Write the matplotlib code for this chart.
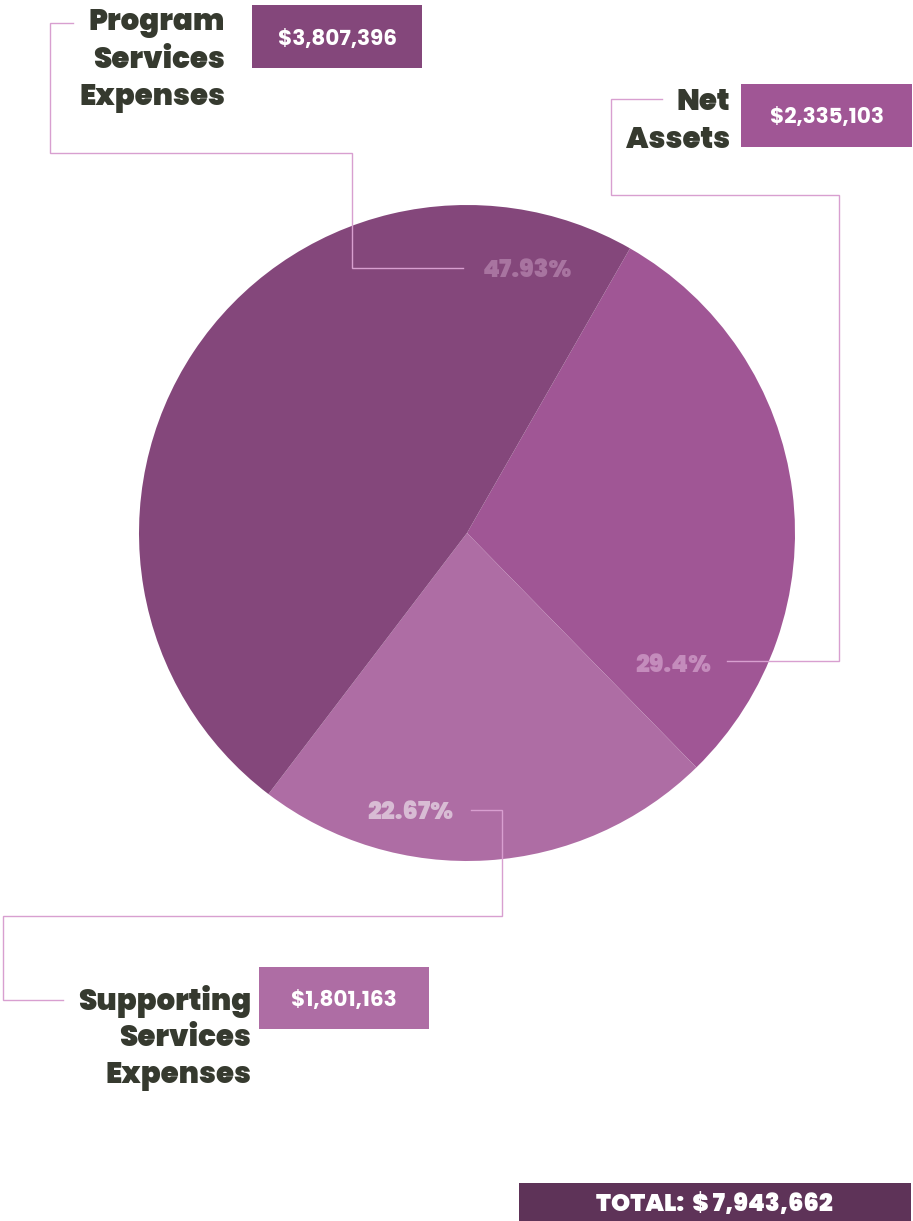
import matplotlib
matplotlib.use("Agg")
import matplotlib.pyplot as plt
from matplotlib.patches import Rectangle
from matplotlib import font_manager
from matplotlib.font_manager import FontProperties

# ---- data ----
categories = ["Net Assets", "Supporting Services Expenses", "Program Services Expenses"]
label_text = ["Net\nAssets", "Supporting\nServices\nExpenses", "Program\nServices\nExpenses"]
values = [2335103, 1801163, 3807396]
colors = ["#A05695", "#AE6DA4", "#84477B"]
pct_colors = ["#C48CBC", "#D8BCD4", "#A874A0"]
total_color = "#5E3358"

W, H = 913, 1221
fig = plt.figure(figsize=(W / 100, H / 100), dpi=100)
ax = fig.add_axes([0, 0, 1, 1])


def Y(y):
    return H - y


files = {f.fname.split("/")[-1]: f.fname for f in font_manager.fontManager.ttflist}


def pick(cands, fallback_weight):
    for c in cands:
        if c in files:
            return lambda size: FontProperties(fname=files[c], size=size)
    return lambda size: FontProperties(family="DejaVu Sans", weight=fallback_weight, size=size)


heavy = pick(["Poppins-Black.ttf", "Lato-Black.ttf", "Inter-Black.otf", "Roboto-Black.ttf"], "bold")
valf = pick(["Poppins-Bold.ttf", "Lato-Bold.ttf", "Inter-Bold.otf"], "bold")

cx, cy, r = 467, 533, 328
ax.pie(values, colors=colors, startangle=60.2, counterclock=False,
       center=(cx, Y(cy)), radius=r, frame=True,
       wedgeprops=dict(linewidth=0))
ax.set_xlim(0, W)
ax.set_ylim(0, H)
ax.set_aspect("equal")
ax.axis("off")

total = sum(values)
pcts = [v / total * 100 for v in values]
pct_pos = [(673, 663), (410, 810), (527, 268)]
for p, (px, py), c in zip(pcts, pct_pos, pct_colors):
    ax.text(px, Y(py), f"{round(p, 2):g}%", color=c, fontproperties=heavy(17.5),
            ha="center", va="center_baseline")

line_c = "#D89FD0"
lw = 1.0
leaders = [
    [(727, 661), (839, 661), (839, 195), (611, 195), (611, 99), (662, 99)],
    [(471, 810), (502, 810), (502, 916), (3, 916), (3, 1000), (63, 1000)],
    [(463, 268), (352, 268), (352, 153), (50, 153), (50, 23), (73, 23)],
]
for pts in leaders:
    ax.plot([p[0] for p in pts], [Y(p[1]) for p in pts], color=line_c, lw=lw,
            solid_joinstyle="miter")

# category labels (right aligned), first line center y, line pitch
lab_pos = [(730, 99), (251, 997), (225, 19)]
pitch = 37.5
for txt, (lx, ly) in zip(label_text, lab_pos):
    for i, line in enumerate(txt.split("\n")):
        ax.text(lx, Y(ly + i * pitch), line, color="#363A2F", fontproperties=heavy(21),
                ha="right", va="center_baseline")

# value boxes
boxes = [(741, 84, 912, 147), (259, 967, 429, 1029), (252, 5, 422, 68)]
for v, (x0, y0, x1, y1), c in zip(values, boxes, colors):
    ax.add_patch(Rectangle((x0, Y(y1)), x1 - x0, y1 - y0, facecolor=c, edgecolor="none"))
    ax.text((x0 + x1) / 2, Y((y0 + y1) / 2), f"${v:,}", color="white", fontproperties=valf(15.5),
            ha="center", va="center_baseline")

# total box
tx0, ty0, tx1, ty1 = 519, 1183, 911, 1221
ax.add_patch(Rectangle((tx0, Y(ty1)), tx1 - tx0, ty1 - ty0, facecolor=total_color, edgecolor="none"))
ax.text(714, Y((ty0 + ty1) / 2), f"TOTAL:  $ {total:,}", color="white",
        fontproperties=heavy(17.5), ha="center", va="center_baseline")

fig.savefig("out.png", dpi=100)
